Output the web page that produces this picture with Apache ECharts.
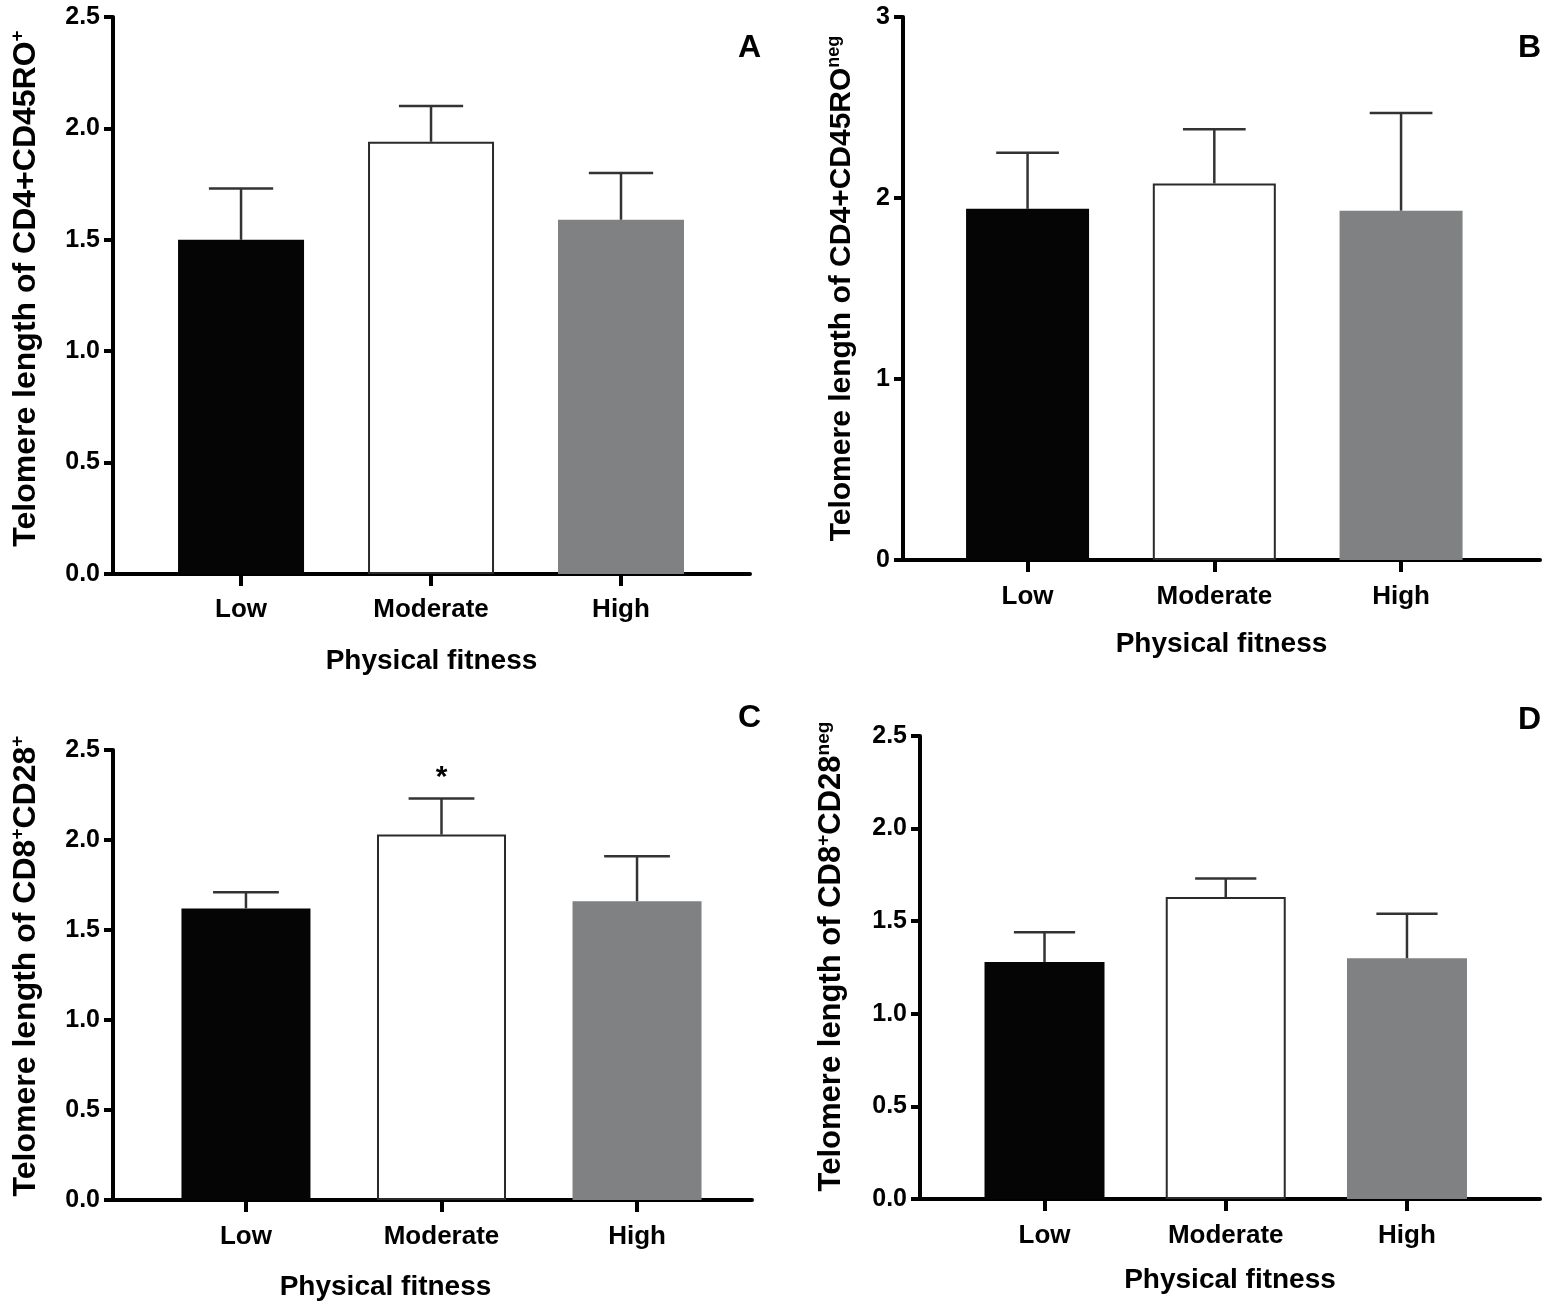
<!DOCTYPE html>
<html>
<head>
<meta charset="utf-8">
<script src="https://cdn.jsdelivr.net/npm/echarts@6/dist/echarts.min.js"></script>
<style>
html,body{margin:0;padding:0;background:#fff;}
#chart{width:1552px;height:1306px;}
</style>
</head>
<body>
<div id="chart"></div>
<script>
// ---- data ----
const categories = ['Low', 'Moderate', 'High'];
const meanA = [1.50, 1.94, 1.59];
const semA  = [0.23, 0.16, 0.21];
const meanB = [1.94, 2.08, 1.93];
const semB  = [0.31, 0.30, 0.54];
const meanC = [1.62, 2.03, 1.66];
const semC  = [0.09, 0.20, 0.25];
const meanD = [1.28, 1.63, 1.30];
const semD  = [0.16, 0.10, 0.24];
const sigC  = ['', '*', ''];
const noSig = ['', '', ''];
const panelLetters = ['A', 'B', 'C', 'D'];
const xTitle = 'Physical fitness';
const yTitles = [
  '{m|Telomere length of CD4+CD45RO}{s|+}',
  '{m|Telomere length of CD4+CD45RO}{s|neg}',
  '{m|Telomere length of CD8}{s|+}{m|CD28}{s|+}',
  '{m|Telomere length of CD8}{s|+}{m|CD28}{s|neg}'
];

// ---- styling / layout ----
const FONT = '"Liberation Sans", Arial, Helvetica, sans-serif';
const barColors = ['#050505', '#ffffff', '#7f8182'];
const ink = '#000';
const errColor = '#333';

const panels = [
  {grid:{left:113, top:17, width:637, height:557}, xmin:-0.674, xmax:2.679, ymax:2.5, yint:0.5, dec:1, barW:126, mean:meanA, sem:semA, sig:noSig, xLabMargin:23, xNameGap:73, xNamePad:[0,0,0,0], yNameGap:69, yFont:32, yNamePad:[0,0,0,14], letter:[750,48]},
  {grid:{left:903, top:17, width:637, height:543}, xmin:-0.667, xmax:2.744, ymax:3, yint:1, dec:0, barW:123, mean:meanB, sem:semB, sig:noSig, xLabMargin:24, xNameGap:70, xNamePad:[0,0,0,0], yNameGap:44, yFont:30, yNamePad:[0,0,0,0], letter:[1530,48]},
  {grid:{left:113, top:750, width:639, height:450}, xmin:-0.680, xmax:2.588, ymax:2.5, yint:0.5, dec:1, barW:129, mean:meanC, sem:semC, sig:sigC, xLabMargin:24, xNameGap:73, xNamePad:[0,94,0,0], yNameGap:69, yFont:32, yNamePad:[0,0,0,18], letter:[750,718]},
  {grid:{left:920, top:736, width:620, height:463}, xmin:-0.687, xmax:2.734, ymax:2.5, yint:0.5, dec:1, barW:120, mean:meanD, sem:semD, sig:noSig, xLabMargin:24, xNameGap:67, xNamePad:[0,0,0,0], yNameGap:71, yFont:31, yNamePad:[0,0,0,22], letter:[1530,720]}
];

const grids = [], xAxes = [], yAxes = [], series = [], graphics = [];

panels.forEach((p, i) => {
  grids.push(Object.assign({containLabel:false}, p.grid));
  xAxes.push({
    type:'value', gridIndex:i, min:p.xmin, max:p.xmax,
    name:xTitle, nameLocation:'middle', nameGap:p.xNameGap,
    nameTextStyle:{fontFamily:FONT, fontWeight:'bold', fontSize:28, color:ink, padding:p.xNamePad},
    axisLine:{show:true, onZero:false, lineStyle:{color:ink, width:4}},
    axisTick:{show:true, length:12, lineStyle:{color:ink, width:4}, customValues:[0,1,2]},
    axisLabel:{show:true, margin:p.xLabMargin, customValues:[0,1,2], formatter:v => categories[Math.round(v)],
               fontFamily:FONT, fontWeight:'bold', fontSize:26, color:ink},
    splitLine:{show:false}
  });
  yAxes.push({
    type:'value', gridIndex:i, min:0, max:p.ymax, interval:p.yint,
    name:yTitles[i], nameLocation:'middle', nameGap:p.yNameGap,
    nameTextStyle:{padding:p.yNamePad, rich:{
      m:{fontFamily:FONT, fontWeight:'bold', fontSize:p.yFont, color:ink, lineHeight:p.yFont + 4},
      s:{fontFamily:FONT, fontWeight:'bold', fontSize:Math.round(p.yFont * 0.6), color:ink, verticalAlign:'top', lineHeight:p.yFont + 4}
    }},
    axisLine:{show:true, onZero:false, lineStyle:{color:ink, width:4}},
    axisTick:{show:true, length:9, lineStyle:{color:ink, width:4}},
    axisLabel:{margin:13, formatter:v => v.toFixed(p.dec), fontFamily:FONT, fontWeight:'bold', fontSize:25, color:ink},
    splitLine:{show:false}
  });
  series.push({
    type:'bar', xAxisIndex:i, yAxisIndex:i, barWidth:p.barW, silent:true, animation:false,
    data:p.mean.map((m, k) => ({
      value:[k, m],
      itemStyle:{color:barColors[k], borderColor:k === 1 ? '#2a2a2a' : barColors[k], borderWidth:k === 1 ? 2 : 0}
    })),
    z:2
  });
  series.push({
    type:'custom', xAxisIndex:i, yAxisIndex:i, silent:true, animation:false, z:3,
    data:p.mean.map((m, k) => [k, m, p.sem[k]]),
    renderItem:(params, api) => {
      const k = api.value(0), m = api.value(1), e = api.value(2);
      const p0 = api.coord([k, m]);
      const p1 = api.coord([k, m + e]);
      const half = p.barW * 0.255;
      const children = [
        {type:'line', shape:{x1:p0[0], y1:p0[1], x2:p1[0], y2:p1[1]}, style:{stroke:errColor, lineWidth:2.5}},
        {type:'line', shape:{x1:p1[0]-half, y1:p1[1], x2:p1[0]+half, y2:p1[1]}, style:{stroke:errColor, lineWidth:2.5}}
      ];
      const s = p.sig[params.dataIndex];
      if (s) {
        children.push({type:'text', x:p1[0], y:p1[1]-6, style:{text:s, fontFamily:FONT, fontWeight:'bold', fontSize:30, fill:ink, align:'center', verticalAlign:'bottom'}});
      }
      return {type:'group', children};
    }
  });
  graphics.push({
    type:'text', left:p.letter[0]-12, top:p.letter[1]-16,
    style:{text:panelLetters[i], fontFamily:FONT, fontWeight:'bold', fontSize:32, fill:ink}
  });
});

const chart = echarts.init(document.getElementById('chart'), null, {renderer:'canvas'});
chart.setOption({
  backgroundColor:'#fff',
  animation:false,
  grid:grids, xAxis:xAxes, yAxis:yAxes, series:series, graphic:graphics
});
</script>
</body>
</html>
